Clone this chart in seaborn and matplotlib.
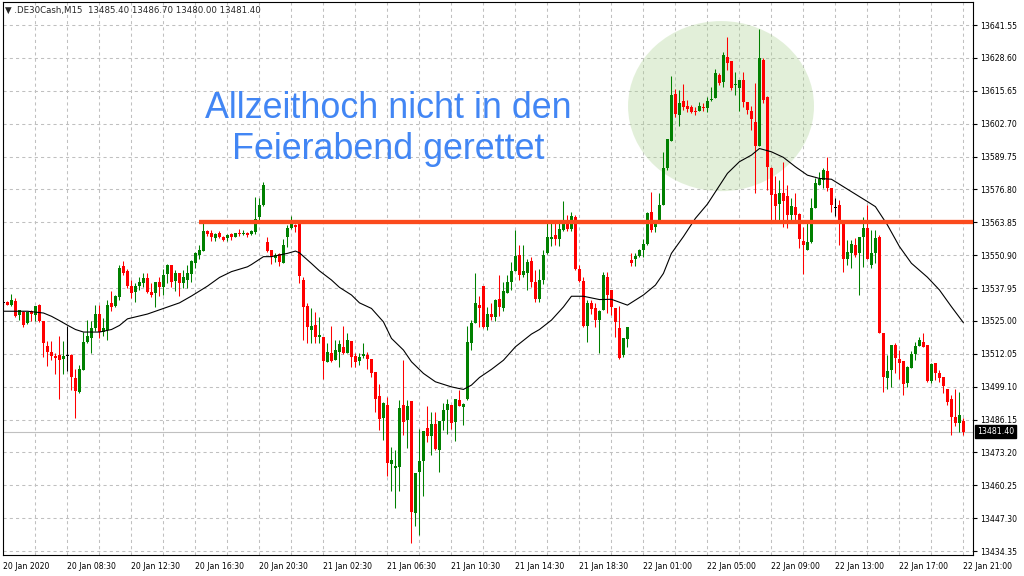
import numpy as np
import pandas as pd
import seaborn as sns
import matplotlib
matplotlib.use("Agg")
import matplotlib.pyplot as plt
from matplotlib.patches import Ellipse
from matplotlib.transforms import blended_transform_factory

# M15 candles (bar 0 .. 240)
opens = [
    13532.1, 13532.3, 13531.4, 13532.7, 13527.2, 13528.4, 13524.0, 13528.8, 13527.5, 13531.4,
    13524.9, 13515.1, 13512.7, 13511.1, 13511.4, 13510.1, 13511.4, 13511.4, 13502.4, 13496.8,
    13505.6, 13516.7, 13518.3, 13522.3, 13527.9, 13520.7, 13521.6, 13532.1, 13530.8, 13534.3,
    13546.5, 13544.5, 13538.7, 13536.5, 13538.7, 13540.0, 13542.0, 13536.5, 13535.8, 13540.4,
    13538.4, 13543.4, 13547.2, 13540.8, 13543.9, 13540.0, 13541.3, 13543.4, 13547.9, 13550.9,
    13552.6, 13560.5, 13559.8, 13557.5, 13559.7, 13558.1, 13557.5, 13559.1, 13558.1, 13559.7,
    13559.3, 13559.8, 13559.1, 13560.1, 13566.0, 13570.6, 13556.2, 13552.9, 13549.9, 13551.3,
    13547.9, 13558.1, 13561.4, 13562.7, 13563.0, 13541.3, 13530.8, 13521.6, 13523.3, 13518.5,
    13518.7, 13508.9, 13512.4, 13509.6, 13512.8, 13514.8, 13512.4, 13517.0, 13511.1, 13509.3,
    13511.1, 13511.5, 13509.9, 13504.9, 13495.3, 13486.9, 13491.8, 13468.8, 13467.1, 13467.3,
    13491.8, 13486.1, 13493.4, 13449.4, 13465.5, 13469.9, 13483.0, 13479.7, 13484.3, 13474.3,
    13485.5, 13489.8, 13491.8, 13485.2, 13494.0, 13491.1, 13494.4, 13516.3, 13524.2, 13531.2,
    13538.7, 13522.7, 13527.7, 13526.6, 13533.8, 13530.1, 13535.8, 13540.4, 13544.7, 13550.9,
    13543.0, 13543.9, 13548.7, 13540.4, 13533.8, 13541.0, 13551.8, 13557.4, 13558.8, 13557.1,
    13560.7, 13563.4, 13561.0, 13566.0, 13545.3, 13540.8, 13522.9, 13531.9, 13529.9, 13525.3,
    13529.3, 13542.4, 13537.1, 13529.9, 13522.0, 13511.5, 13517.8, 13549.0, 13549.2, 13550.5,
    13553.1, 13555.3, 13568.0, 13561.8, 13564.1, 13570.6, 13585.1, 13596.0, 13614.4, 13606.1,
    13611.7, 13609.6, 13609.1, 13607.8, 13607.8, 13609.4, 13608.7, 13612.2, 13612.6, 13621.8,
    13619.2, 13628.8, 13627.5, 13617.9, 13616.6, 13619.9, 13611.3, 13607.8, 13603.5, 13593.9,
    13627.7, 13613.3, 13585.1, 13575.0, 13571.0, 13575.2, 13574.2, 13566.7, 13570.0, 13567.1,
    13556.6, 13552.9, 13556.2, 13569.3, 13578.5, 13580.5, 13584.1, 13577.2, 13569.8, 13570.7,
    13563.7, 13549.3, 13551.8, 13554.9, 13551.6, 13558.2, 13561.5, 13547.0, 13551.9, 13558.2,
    13520.1, 13502.4, 13505.5, 13515.5, 13509.9, 13509.0, 13500.7, 13506.3, 13512.0, 13515.1,
    13516.8, 13515.5, 13501.5, 13508.6, 13504.6, 13502.8, 13498.1, 13494.1, 13487.3, 13484.7,
    13485.4]
highs = [
    13533.0, 13532.9, 13535.7, 13534.0, 13529.3, 13528.8, 13528.6, 13529.2, 13531.0, 13531.8,
    13524.9, 13517.0, 13517.0, 13512.5, 13519.0, 13517.0, 13522.9, 13511.8, 13506.0, 13507.5,
    13520.6, 13525.5, 13524.9, 13531.4, 13531.4, 13526.2, 13533.4, 13536.6, 13535.3, 13547.1,
    13548.4, 13545.4, 13541.1, 13539.8, 13542.1, 13543.7, 13543.7, 13539.8, 13540.4, 13542.4,
    13545.3, 13547.6, 13547.2, 13545.0, 13543.9, 13545.0, 13547.0, 13548.9, 13552.2, 13554.9,
    13564.7, 13560.8, 13560.8, 13559.5, 13560.5, 13558.5, 13559.2, 13559.5, 13559.7, 13561.0,
    13560.8, 13560.1, 13560.8, 13573.9, 13573.6, 13579.8, 13558.1, 13553.1, 13551.6, 13551.6,
    13557.1, 13562.7, 13566.3, 13563.1, 13563.4, 13542.4, 13532.1, 13529.9, 13528.6, 13526.6,
    13518.7, 13516.1, 13522.9, 13517.4, 13517.4, 13522.9, 13520.1, 13517.0, 13512.4, 13512.4,
    13516.4, 13512.8, 13509.9, 13504.9, 13500.3, 13493.0, 13495.1, 13475.4, 13474.1, 13493.8,
    13509.5, 13493.8, 13493.4, 13465.1, 13482.6, 13481.6, 13491.4, 13489.2, 13489.2, 13485.5,
    13492.5, 13494.4, 13491.8, 13494.4, 13497.7, 13492.7, 13522.9, 13525.5, 13543.9, 13534.7,
    13538.7, 13530.5, 13531.9, 13533.8, 13543.0, 13540.4, 13543.0, 13548.3, 13560.7, 13554.8,
    13554.8, 13549.2, 13550.2, 13545.0, 13545.3, 13552.9, 13563.4, 13563.4, 13563.4, 13563.4,
    13572.2, 13566.7, 13568.0, 13566.7, 13547.0, 13542.1, 13533.2, 13533.2, 13531.9, 13529.2,
    13544.4, 13544.4, 13537.1, 13529.9, 13530.8, 13518.1, 13522.4, 13551.6, 13551.9, 13553.5,
    13557.1, 13568.0, 13575.9, 13564.7, 13575.5, 13591.6, 13596.5, 13621.4, 13616.2, 13615.9,
    13618.5, 13612.2, 13610.0, 13609.4, 13611.3, 13610.7, 13613.0, 13617.2, 13624.1, 13622.8,
    13631.0, 13636.9, 13627.5, 13623.2, 13619.9, 13623.2, 13611.3, 13609.6, 13618.6, 13639.8,
    13628.4, 13613.6, 13585.7, 13582.1, 13580.5, 13587.7, 13578.5, 13573.3, 13575.5, 13567.3,
    13562.1, 13563.4, 13573.3, 13581.1, 13583.8, 13585.1, 13589.4, 13577.2, 13573.3, 13572.6,
    13563.7, 13556.9, 13556.9, 13557.5, 13558.2, 13566.1, 13570.7, 13560.8, 13560.8, 13558.9,
    13520.1, 13511.6, 13515.5, 13516.4, 13513.5, 13509.0, 13507.3, 13513.3, 13516.8, 13518.5,
    13520.4, 13515.5, 13508.6, 13508.6, 13505.7, 13502.8, 13498.1, 13495.8, 13498.1, 13496.8,
    13486.7]
lows = [
    13531.0, 13531.1, 13531.0, 13526.5, 13525.5, 13522.4, 13523.6, 13525.1, 13525.0, 13524.6,
    13510.9, 13507.2, 13509.6, 13503.9, 13494.1, 13503.9, 13505.3, 13497.8, 13486.9, 13496.6,
    13505.5, 13516.4, 13512.5, 13520.9, 13518.3, 13519.0, 13517.4, 13528.8, 13530.6, 13533.4,
    13543.2, 13538.0, 13533.9, 13532.5, 13537.1, 13538.2, 13535.8, 13534.5, 13530.6, 13534.8,
    13535.2, 13539.8, 13538.4, 13536.9, 13534.8, 13537.8, 13537.8, 13540.4, 13545.7, 13549.2,
    13552.6, 13558.4, 13556.6, 13556.6, 13557.5, 13556.6, 13556.6, 13556.8, 13557.9, 13558.5,
    13558.8, 13558.1, 13558.8, 13559.2, 13564.7, 13570.2, 13552.2, 13547.6, 13548.3, 13546.6,
    13547.9, 13554.2, 13561.0, 13560.1, 13539.8, 13517.4, 13516.4, 13516.4, 13516.4, 13516.4,
    13502.3, 13508.9, 13508.9, 13509.6, 13506.9, 13511.9, 13512.4, 13506.9, 13506.9, 13507.6,
    13510.2, 13506.2, 13502.7, 13489.2, 13482.0, 13478.0, 13463.8, 13458.1, 13451.1, 13458.1,
    13480.0, 13475.1, 13437.6, 13444.1, 13440.6, 13455.9, 13477.4, 13472.1, 13474.3, 13465.5,
    13481.9, 13480.6, 13482.6, 13477.8, 13491.4, 13484.0, 13494.0, 13513.7, 13524.2, 13522.7,
    13522.0, 13521.6, 13525.3, 13525.0, 13526.9, 13528.9, 13535.8, 13537.1, 13544.7, 13541.3,
    13542.1, 13537.1, 13538.4, 13532.5, 13532.5, 13539.5, 13551.3, 13554.4, 13554.8, 13554.4,
    13560.5, 13560.5, 13560.5, 13545.0, 13540.4, 13522.4, 13516.8, 13527.7, 13522.7, 13512.2,
    13529.3, 13528.0, 13527.3, 13518.8, 13509.8, 13510.9, 13514.8, 13546.6, 13546.6, 13550.0,
    13550.0, 13554.9, 13560.1, 13560.1, 13564.1, 13570.6, 13584.4, 13596.0, 13605.2, 13601.7,
    13608.0, 13607.4, 13606.7, 13606.1, 13607.8, 13607.8, 13607.4, 13611.7, 13612.6, 13617.9,
    13617.2, 13623.8, 13615.9, 13614.0, 13607.8, 13609.1, 13606.5, 13600.2, 13575.2, 13593.9,
    13611.0, 13576.5, 13564.7, 13564.7, 13564.7, 13562.1, 13561.4, 13564.1, 13563.4, 13553.6,
    13543.5, 13552.9, 13555.5, 13569.3, 13578.5, 13577.2, 13576.3, 13568.0, 13566.3, 13554.9,
    13544.4, 13547.0, 13545.7, 13550.3, 13535.2, 13546.4, 13549.3, 13545.7, 13547.7, 13520.1,
    13496.8, 13498.1, 13499.1, 13504.4, 13502.0, 13495.8, 13498.9, 13506.3, 13509.4, 13515.1,
    13514.9, 13501.1, 13500.7, 13501.7, 13501.1, 13496.5, 13491.9, 13480.1, 13483.6, 13481.4,
    13480.0]
closes = [
    13532.1, 13531.4, 13533.4, 13526.8, 13529.1, 13523.2, 13528.5, 13527.8, 13530.8, 13524.9,
    13516.4, 13512.7, 13511.1, 13510.2, 13509.6, 13511.1, 13511.4, 13502.9, 13497.4, 13505.9,
    13516.8, 13519.0, 13522.3, 13527.9, 13520.7, 13522.0, 13531.4, 13530.5, 13534.7, 13545.8,
    13543.8, 13538.9, 13536.1, 13538.7, 13540.4, 13541.7, 13536.5, 13535.2, 13540.4, 13538.4,
    13543.0, 13547.0, 13540.4, 13543.9, 13540.0, 13542.1, 13544.0, 13548.7, 13551.6, 13553.1,
    13560.5, 13559.2, 13558.1, 13559.1, 13558.1, 13556.8, 13558.8, 13558.1, 13559.5, 13559.1,
    13559.7, 13558.7, 13560.4, 13565.0, 13570.6, 13578.5, 13552.6, 13550.3, 13550.9, 13548.3,
    13554.9, 13561.4, 13563.4, 13561.8, 13542.6, 13530.3, 13522.4, 13523.0, 13518.5, 13519.4,
    13509.3, 13512.8, 13509.3, 13513.5, 13515.9, 13512.4, 13517.4, 13510.9, 13508.9, 13510.6,
    13511.9, 13510.0, 13504.5, 13494.4, 13486.5, 13492.7, 13469.1, 13470.1, 13467.8, 13490.5,
    13485.2, 13491.4, 13449.8, 13465.1, 13469.7, 13481.6, 13479.7, 13484.3, 13474.5, 13485.5,
    13489.8, 13492.1, 13484.8, 13494.2, 13491.4, 13492.1, 13516.8, 13524.3, 13531.9, 13529.9,
    13522.7, 13527.9, 13526.6, 13533.4, 13530.3, 13536.8, 13540.4, 13544.7, 13550.5, 13543.0,
    13544.6, 13548.3, 13540.4, 13533.8, 13541.0, 13550.9, 13558.1, 13558.1, 13557.1, 13561.0,
    13563.4, 13561.0, 13566.3, 13545.6, 13540.8, 13522.9, 13532.1, 13529.5, 13525.3, 13529.0,
    13543.1, 13535.2, 13530.3, 13524.7, 13510.2, 13518.1, 13522.4, 13547.9, 13550.5, 13553.1,
    13555.3, 13567.6, 13560.8, 13563.7, 13570.6, 13585.1, 13596.5, 13614.0, 13606.5, 13610.9,
    13609.1, 13608.3, 13607.4, 13607.5, 13609.6, 13608.7, 13611.7, 13612.5, 13622.8, 13618.8,
    13629.7, 13626.4, 13616.6, 13618.4, 13619.9, 13611.3, 13608.0, 13604.4, 13593.9, 13628.4,
    13612.0, 13585.7, 13574.6, 13570.2, 13575.5, 13572.3, 13566.7, 13570.2, 13566.7, 13557.1,
    13554.9, 13556.2, 13569.3, 13579.4, 13580.7, 13584.4, 13577.2, 13570.7, 13569.8, 13563.7,
    13549.3, 13552.3, 13555.3, 13551.0, 13558.2, 13561.5, 13549.3, 13551.9, 13557.5, 13520.1,
    13502.8, 13505.4, 13515.5, 13510.3, 13508.6, 13500.2, 13506.7, 13512.0, 13515.1, 13517.5,
    13514.9, 13501.5, 13508.0, 13504.4, 13502.4, 13499.4, 13493.2, 13487.3, 13484.7, 13488.0,
    13481.4]

# moving average as drawn on the chart (bar index, value)
ma_bar = [0, 6, 10, 12, 14, 16, 18, 20, 24, 27, 29, 31, 36, 40, 44, 47, 51, 54, 57, 61,
          62, 65, 67, 71, 73, 74, 77, 79, 82, 84, 87, 89, 92, 95, 97, 100, 102, 105, 108, 112,
          115, 117, 119, 122, 125, 128, 132, 134, 137, 140, 142, 145, 149, 152, 156, 160, 163,
          165, 167, 170, 173, 176, 181, 184, 187, 189, 192, 195, 198, 201, 204, 207, 212, 216,
          218, 221, 224, 227, 231, 234, 237, 240]
ma_val = [13528.8, 13528.8, 13528.1, 13526.8, 13525.1, 13523.3, 13521.6, 13520.6, 13520.6, 13521.6,
          13523.2, 13525.8, 13527.7, 13529.9, 13532.1, 13534.8, 13538.7, 13542.1, 13544.4, 13546.3,
          13547.2, 13550.3, 13550.3, 13551.6, 13552.5, 13551.8, 13547.6, 13544.7, 13541.1, 13538.2,
          13535.2, 13532.1, 13529.9, 13524.6, 13518.1, 13513.5, 13508.9, 13504.3, 13501.0, 13499.0,
          13498.0, 13499.7, 13502.7, 13505.9, 13509.5, 13514.8, 13519.8, 13521.6, 13525.3, 13530.5,
          13534.7, 13534.7, 13533.4, 13533.5, 13531.2, 13535.2, 13539.1, 13543.7, 13551.6, 13558.2,
          13565.4, 13571.0, 13583.1, 13587.7, 13590.3, 13592.9, 13591.6, 13589.4, 13585.7, 13582.4,
          13581.1, 13580.8, 13575.9, 13572.0, 13570.0, 13562.8, 13554.3, 13547.7, 13542.2, 13537.2,
          13530.6, 13524.3]

time_labels = ["20 Jan 2020", "20 Jan 08:30", "20 Jan 12:30", "20 Jan 16:30", "20 Jan 20:30",
               "21 Jan 02:30", "21 Jan 06:30", "21 Jan 10:30", "21 Jan 14:30", "21 Jan 18:30",
               "22 Jan 01:00", "22 Jan 05:00", "22 Jan 09:00", "22 Jan 13:00", "22 Jan 17:00",
               "22 Jan 21:00"]
price_ticks = [13434.35, 13447.30, 13460.25, 13473.20, 13486.15, 13499.10, 13512.05, 13525.00,
               13537.95, 13550.90, 13563.85, 13576.80, 13589.75, 13602.70, 13615.65, 13628.60,
               13641.55]
level = 13563.85
last_price = 13481.40
header = "\u25bc .DE30Cash,M15  13485.40 13486.70 13480.00 13481.40"
note = "Allzeithoch nicht in den\nFeierabend gerettet"

sns.set_style("white")
plt.rcParams["font.family"] = ["DejaVu Sans"]

df = pd.DataFrame({"o": opens, "h": highs, "l": lows, "c": closes})
df["bar"] = np.arange(len(df))
df["col"] = np.where(df.c > df.o, "#008000", np.where(df.c < df.o, "#ff0000", "#000000"))
body = (df.c - df.o).abs()
df["bh"] = body.clip(lower=0.4)
df["bb"] = df[["o", "c"]].min(axis=1) - (df.bh - body) / 2

fig = plt.figure(figsize=(10.24, 5.76), dpi=100)
ax = fig.add_axes([2.7 / 1024, 20.7 / 576, 970.3 / 1024, 553.3 / 576])

# highlight circle
ax.add_patch(Ellipse((179.4, 13609.6), 46.5, 67.0, facecolor="#a9d18e", alpha=0.33,
                     edgecolor="none", zorder=0.8))

ax.axhline(last_price, color="#c0c0c0", lw=0.8, zorder=1)
ax.vlines(df.bar, df.l, df.h, colors=df.col, lw=0.75, zorder=2)
ax.bar(df.bar, df.bh, bottom=df.bb, width=0.72, color=df.col, linewidth=0, zorder=3)
sns.lineplot(x=ma_bar, y=ma_val, color="black", lw=0.8, ax=ax, zorder=4)

xmax = 242.4
ax.plot([48.9, xmax], [level, level], color="#fb4a1c", lw=3.1, solid_capstyle="butt", zorder=5)

ax.set_xlim(-0.2, xmax)
ax.set_ylim(13432.66, 13650.61)

ax.set_xticks(np.arange(0, 241, 16))
ax.set_xticklabels(time_labels, ha="left")
ax.set_xticks(np.arange(8, 241, 16), minor=True)
ax.yaxis.tick_right()
ax.set_yticks(price_ticks)
ax.set_yticklabels([f"{v:.2f}" for v in price_ticks])
ax.tick_params(axis="both", which="major", direction="out", length=3, width=0.8,
               colors="black", labelsize=5.6, pad=2)
ax.tick_params(axis="x", which="major", pad=1.5)
ax.tick_params(axis="x", which="minor", length=0)
ax.set_xlabel("")
ax.set_ylabel("")

ax.grid(True, axis="x", which="both", color="#c0c0c0", lw=0.75, linestyle=(0, (3, 3)))
ax.grid(True, axis="y", which="major", color="#c0c0c0", lw=0.75, linestyle=(0, (3, 3)))
ax.set_axisbelow(True)
for s in ax.spines.values():
    s.set_color("black")
    s.set_linewidth(0.8)

tr = blended_transform_factory(ax.transAxes, ax.transData)
ax.text(1.004, last_price, f"{last_price:.2f}", transform=tr, ha="left", va="center",
        color="white", fontsize=5.6,
        bbox=dict(boxstyle="square,pad=0.25", facecolor="black", edgecolor="black"))

fig.text(5 / 1024, 1 - 10 / 576, header, ha="left", va="center", fontsize=6.2)
fig.text(388 / 1024, 1 - 129 / 576, note, ha="center", va="center", fontsize=25.8,
         color="#4286f4", family=["Liberation Sans", "DejaVu Sans"], linespacing=1.22)

fig.savefig("out.png", dpi=100)
